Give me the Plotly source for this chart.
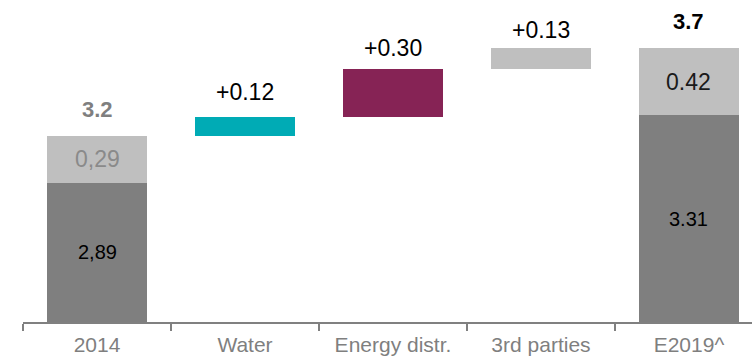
import plotly.graph_objects as go

# Bridge from 2014 to E2019
categories = ["2014", "Water", "Energy distr.", "3rd parties", "E2019^"]
start_parts = [2.89, 0.29]      # 2014: core, other
deltas = [0.12, 0.30, 0.13]     # Water, Energy distr., 3rd parties
end_parts = [3.31, 0.42]        # E2019^: core, other

DARK = "#7f7f7f"
LIGHT = "#bfbfbf"
DELTA_COLORS = ["#00abb5", "#862355", "#bfbfbf"]
FONT = "Liberation Sans, Arial, sans-serif"
Y_MIN, Y_MAX = 2.02, 4.03
BAR_W = 0.67

start_total = start_parts[0] + start_parts[1]
end_total = end_parts[0] + end_parts[1]

# running base for each step of the bridge
step_base = []
run = start_total
for d in deltas:
    step_base.append(run)
    run += d

edge_cats = [categories[0], categories[-1]]
step_cats = categories[1:-1]

fig = go.Figure()
fig.add_trace(go.Bar(
    x=edge_cats, y=[start_parts[0], end_parts[0]], base=[0, 0],
    marker=dict(color=DARK, line=dict(width=0)), width=BAR_W, hoverinfo="skip",
))
fig.add_trace(go.Bar(
    x=edge_cats, y=[start_parts[1], end_parts[1]],
    base=[start_parts[0], end_parts[0]],
    marker=dict(color=LIGHT, line=dict(width=0)), width=BAR_W, hoverinfo="skip",
))
fig.add_trace(go.Bar(
    x=step_cats, y=deltas, base=step_base,
    marker=dict(color=DELTA_COLORS, line=dict(width=0)), width=BAR_W, hoverinfo="skip",
))

ann = []


def label(cat, y, text, size, color, bold=False, yshift=0):
    # annotations on a category axis are placed by category index
    if bold:
        text = "<b>" + text + "</b>"
    ann.append(dict(x=categories.index(cat), y=y, text=text, showarrow=False,
                    xref="x", yref="y", yanchor="middle", yshift=yshift,
                    font=dict(family=FONT, size=size, color=color)))


def comma(v):
    return f"{v:.2f}".replace(".", ",")


# 2014 column
first, last = categories[0], categories[-1]
label(first, (Y_MIN + start_parts[0]) / 2, comma(start_parts[0]), 20, "#000000")
label(first, start_parts[0] + start_parts[1] / 2, comma(start_parts[1]), 23, "#8a8a8a")
label(first, start_total, f"{start_total:.1f}", 22, "#7f7f7f", bold=True, yshift=27)

# bridge steps
step_shift = [25, 21, 18]
for c, b, d, s in zip(step_cats, step_base, deltas, step_shift):
    label(c, b + d, f"+{d:.2f}", 23, "#000000", yshift=s)

# E2019 column
label(last, (Y_MIN + end_parts[0]) / 2, f"{end_parts[0]:.2f}", 20, "#000000")
label(last, end_parts[0] + end_parts[1] / 2, f"{end_parts[1]:.2f}", 23, "#1a1a1a")
label(last, end_total, f"{end_total:.1f}", 22, "#000000", bold=True, yshift=27)

fig.update_layout(
    width=752, height=358,
    margin=dict(l=23, r=0, t=0, b=36),
    paper_bgcolor="white", plot_bgcolor="white",
    barmode="overlay", bargap=0,
    showlegend=False,
    annotations=ann,
    font=dict(family=FONT),
)
fig.update_xaxes(
    type="category", categoryorder="array", categoryarray=categories,
    range=[-0.5, 4.426], fixedrange=True,
    showline=True, linecolor="#808080", linewidth=2,
    ticks="outside", tickson="boundaries", ticklen=7, tickwidth=2, tickcolor="#808080",
    tickfont=dict(family=FONT, size=21, color="#7f7f7f"),
    ticklabelstandoff=3,
    showgrid=False, zeroline=False,
)
fig.update_yaxes(range=[Y_MIN, Y_MAX], visible=False, fixedrange=True)

fig.write_html("out.html")
